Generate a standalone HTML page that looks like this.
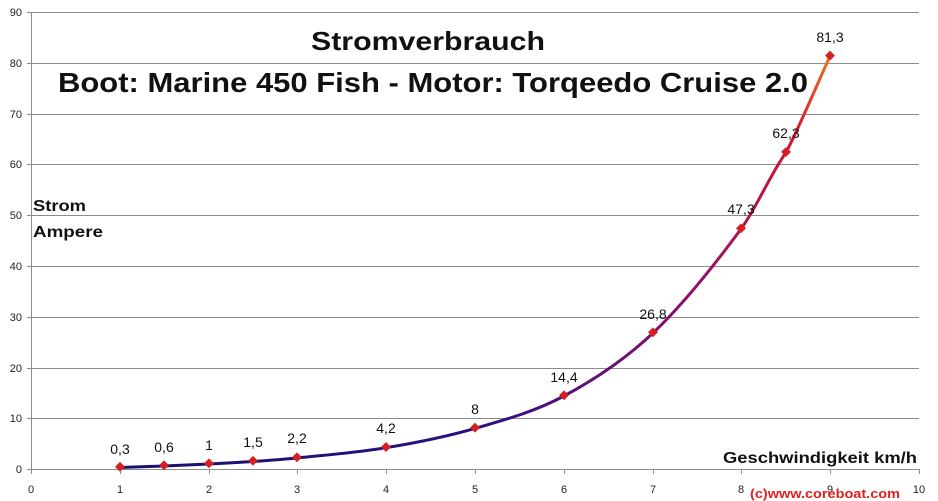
<!DOCTYPE html>
<html><head><meta charset="utf-8"><style>
html,body{margin:0;padding:0;background:#fff;}
svg{display:block;font-family:"Liberation Sans",sans-serif;}
</style></head><body>
<svg width="938" height="501" viewBox="0 0 938 501" xmlns="http://www.w3.org/2000/svg">
<defs>
<linearGradient id="g" gradientUnits="userSpaceOnUse" x1="120" y1="0" x2="830" y2="0">
<stop offset="0" stop-color="#1a1070"/>
<stop offset="0.5" stop-color="#2a1080"/>
<stop offset="0.8" stop-color="#8a1070"/>
<stop offset="0.95" stop-color="#d01530"/>
<stop offset="1" stop-color="#f07020"/>
</linearGradient>
</defs>
<g stroke="#8c8c8c" stroke-width="1">
<line x1="31" y1="12.5" x2="919" y2="12.5"/>
<line x1="31" y1="63.5" x2="919" y2="63.5"/>
<line x1="31" y1="114.5" x2="919" y2="114.5"/>
<line x1="31" y1="164.5" x2="919" y2="164.5"/>
<line x1="31" y1="215.5" x2="919" y2="215.5"/>
<line x1="31" y1="266.5" x2="919" y2="266.5"/>
<line x1="31" y1="317.5" x2="919" y2="317.5"/>
<line x1="31" y1="368.5" x2="919" y2="368.5"/>
<line x1="31" y1="418.5" x2="919" y2="418.5"/>
<line x1="31" y1="469.5" x2="919" y2="469.5"/>
<line x1="31.5" y1="12" x2="31.5" y2="469"/>
</g>
<g stroke="#8c8c8c">
<line x1="27" y1="12.5" x2="31" y2="12.5"/><line x1="27" y1="63.5" x2="31" y2="63.5"/><line x1="27" y1="114.5" x2="31" y2="114.5"/><line x1="27" y1="164.5" x2="31" y2="164.5"/><line x1="27" y1="215.5" x2="31" y2="215.5"/><line x1="27" y1="266.5" x2="31" y2="266.5"/><line x1="27" y1="317.5" x2="31" y2="317.5"/><line x1="27" y1="368.5" x2="31" y2="368.5"/><line x1="27" y1="418.5" x2="31" y2="418.5"/><line x1="27" y1="469.5" x2="31" y2="469.5"/>
<line x1="31.5" y1="469" x2="31.5" y2="474"/><line x1="120.5" y1="469" x2="120.5" y2="474"/><line x1="209.5" y1="469" x2="209.5" y2="474"/><line x1="297.5" y1="469" x2="297.5" y2="474"/><line x1="386.5" y1="469" x2="386.5" y2="474"/><line x1="475.5" y1="469" x2="475.5" y2="474"/><line x1="564.5" y1="469" x2="564.5" y2="474"/><line x1="653.5" y1="469" x2="653.5" y2="474"/><line x1="741.5" y1="469" x2="741.5" y2="474"/><line x1="830.5" y1="469" x2="830.5" y2="474"/><line x1="919.5" y1="469" x2="919.5" y2="474"/>
</g>
<g font-size="11" fill="#222" text-anchor="end">
<text x="22" y="16">90</text><text x="22" y="67">80</text><text x="22" y="118">70</text><text x="22" y="168">60</text><text x="22" y="219">50</text><text x="22" y="270">40</text><text x="22" y="321">30</text><text x="22" y="372">20</text><text x="22" y="422">10</text><text x="22" y="473">0</text>
</g>
<g font-size="11" fill="#222" text-anchor="middle">
<text x="31" y="493">0</text><text x="120" y="493">1</text><text x="209" y="493">2</text><text x="297" y="493">3</text><text x="386" y="493">4</text><text x="475" y="493">5</text><text x="564" y="493">6</text><text x="653" y="493">7</text><text x="741" y="493">8</text><text x="830" y="493">9</text><text x="919" y="493">10</text>
</g>
<path d="M120,467.5 C134.7,467 149.3,466.6 164,466 C179,465.4 194,464.8 209,464 C223.7,463.3 238.3,462.5 253,461.5 C267.7,460.5 282.3,459.5 297,458 C326.7,454.9 356.3,452.6 386,447.7 C415.7,442.8 445.3,437 475,428.4 C504.7,419.8 534.3,411.9 564,396 C593.7,380.1 623.3,361 653,333 C682.3,305.3 711.7,268.8 741,229 C756,208.7 771,173 786,152.6 C800.7,124.1 815.3,88.4 830,56.3" fill="none" stroke="url(#g)" stroke-width="3"/>
<g fill="#d42020">
<rect x="116" y="463.5" width="7" height="7" transform="rotate(45 120 467.5)"/>
<rect x="160" y="462" width="7" height="7" transform="rotate(45 164 466)"/>
<rect x="205" y="460" width="7" height="7" transform="rotate(45 209 464)"/>
<rect x="249" y="457.5" width="7" height="7" transform="rotate(45 253 461.5)"/>
<rect x="293" y="454" width="7" height="7" transform="rotate(45 297 458)"/>
<rect x="382" y="443.7" width="7" height="7" transform="rotate(45 386 447.7)"/>
<rect x="471" y="424.4" width="7" height="7" transform="rotate(45 475 428.4)"/>
<rect x="560" y="392" width="7" height="7" transform="rotate(45 564 396)"/>
<rect x="649" y="329" width="7" height="7" transform="rotate(45 653 333)"/>
<rect x="737" y="225" width="7" height="7" transform="rotate(45 741 229)"/>
<rect x="782" y="148.6" width="7" height="7" transform="rotate(45 786 152.6)"/>
<rect x="826" y="52.3" width="7" height="7" transform="rotate(45 830 56.3)"/>
</g>
<g font-size="14" fill="#111" text-anchor="middle">
<text x="120" y="454">0,3</text><text x="164" y="452">0,6</text><text x="209" y="450">1</text><text x="253" y="447">1,5</text><text x="297" y="443">2,2</text><text x="386" y="433">4,2</text><text x="475" y="414">8</text><text x="564" y="382">14,4</text><text x="653" y="319">26,8</text><text x="741" y="214">47,3</text><text x="786" y="138">62,3</text><text x="830" y="42">81,3</text>
</g>
<g font-weight="bold" fill="#111">
<text x="428" y="50" font-size="26" text-anchor="middle" textLength="234" lengthAdjust="spacingAndGlyphs">Stromverbrauch</text>
<text x="58" y="92" font-size="28" textLength="750" lengthAdjust="spacingAndGlyphs">Boot: Marine 450 Fish - Motor: Torqeedo Cruise 2.0</text>
<text x="33" y="211" font-size="16" textLength="53" lengthAdjust="spacingAndGlyphs">Strom</text>
<text x="33" y="237" font-size="16" textLength="70" lengthAdjust="spacingAndGlyphs">Ampere</text>
<text x="723" y="463" font-size="16" textLength="194" lengthAdjust="spacingAndGlyphs">Geschwindigkeit km/h</text>
<text x="750" y="498" font-size="13" fill="#e02020" textLength="150" lengthAdjust="spacingAndGlyphs">(c)www.coreboat.com</text>
</g>
</svg>
</body></html>
